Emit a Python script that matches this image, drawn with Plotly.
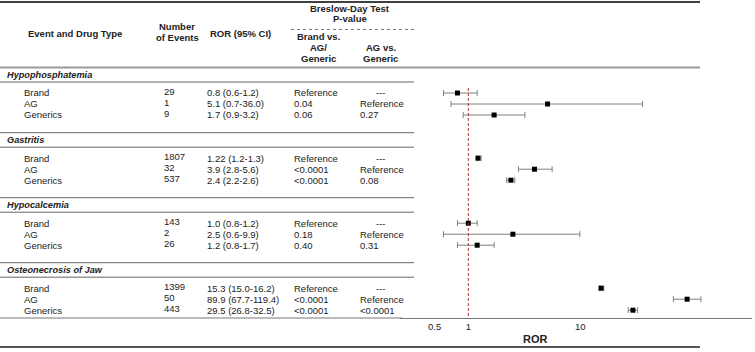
import plotly.graph_objects as go

# ---------------- data ----------------
events = ["Hypophosphatemia", "Gastritis", "Hypocalcemia", "Osteonecrosis of Jaw"]
drug_types = ["Brand", "AG", "Generics"]
n_events = [[29, 1, 9], [1807, 32, 537], [143, 2, 26], [1399, 50, 443]]
ror = [[0.8, 5.1, 1.7], [1.22, 3.9, 2.4], [1.0, 2.5, 1.2], [15.3, 89.9, 29.5]]
ci_lo = [[0.6, 0.7, 0.9], [1.2, 2.8, 2.2], [0.8, 0.6, 0.8], [15.0, 67.7, 26.8]]
ci_hi = [[1.2, 36.0, 3.2], [1.3, 5.6, 2.6], [1.2, 9.9, 1.7], [16.2, 119.4, 32.5]]
ror_labels = [["0.8 (0.6-1.2)", "5.1 (0.7-36.0)", "1.7 (0.9-3.2)"],
              ["1.22 (1.2-1.3)", "3.9 (2.8-5.6)", "2.4 (2.2-2.6)"],
              ["1.0 (0.8-1.2)", "2.5 (0.6-9.9)", "1.2 (0.8-1.7)"],
              ["15.3 (15.0-16.2)", "89.9 (67.7-119.4)", "29.5 (26.8-32.5)"]]
p_brand = [["Reference", "0.04", "0.06"], ["Reference", "<0.0001", "<0.0001"],
           ["Reference", "0.18", "0.40"], ["Reference", "<0.0001", "<0.0001"]]
p_ag = [["---", "Reference", "0.27"], ["---", "Reference", "0.08"],
        ["---", "Reference", "0.31"], ["---", "Reference", "<0.0001"]]
tick_vals = [0.5, 1, 10]
tick_text = ["0.5", "1", "10"]

# ---------------- layout constants (pixels) ----------------
W, H = 755, 352
FONT = "Liberation Sans, Arial, sans-serif"
TXT = "#222222"
FS = 9.5
AXIS_Y = 318
group_top = [67.5, 132.7, 197.7, 262.7]
TABLE_R = 414


def px(x):
    return x / W


def py(y):
    return 1 - y / H


row_y = []
for g in range(len(events)):
    row_y.append([group_top[g] + 25.5 + 11 * i for i in range(len(drug_types))])

fig = go.Figure()

# forest plot points
xs, ys, ep, em = [], [], [], []
for g in range(len(events)):
    for i in range(len(drug_types)):
        xs.append(ror[g][i])
        ys.append(row_y[g][i])
        ep.append(ci_hi[g][i] - ror[g][i])
        em.append(ror[g][i] - ci_lo[g][i])

fig.add_trace(go.Scatter(
    x=xs, y=ys, mode="markers",
    marker=dict(symbol="square", size=5, color="black"),
    error_x=dict(type="data", symmetric=False, array=ep, arrayminus=em,
                 color="#808080", thickness=1, width=3),
    showlegend=False, hoverinfo="skip"))

ann = []


def text(x, y, s, anchor="left", bold=False, italic=False, size=FS):
    if bold:
        s = "<b>" + s + "</b>"
    if italic:
        s = "<i>" + s + "</i>"
    ann.append(dict(x=px(x), y=py(y), xref="paper", yref="paper", text=s,
                    showarrow=False, xanchor=anchor, yanchor="middle",
                    font=dict(family=FONT, size=size, color=TXT)))


# header
text(75, 33, "Event and Drug Type", "center", bold=True)
text(177, 27, "Number", "center", bold=True)
text(177, 38, "of Events", "center", bold=True)
text(240, 33, "ROR (95% CI)", "center", bold=True)
text(350, 8.5, "Breslow-Day Test", "center", bold=True)
text(350, 19, "P-value", "center", bold=True)
text(318, 36, "Brand vs.", "center", bold=True)
text(318, 47, "AG/", "center", bold=True)
text(318, 58, "Generic", "center", bold=True)
text(381, 47, "AG vs.", "center", bold=True)
text(381, 58, "Generic", "center", bold=True)

# body
for g in range(len(events)):
    text(5, group_top[g] + 7.5, events[g], bold=True, italic=True, size=9.2)
    for i in range(len(drug_types)):
        y = row_y[g][i]
        text(22, y, drug_types[i])
        text(162, y - 1.5, str(n_events[g][i]))
        text(205, y, ror_labels[g][i])
        text(292, y, p_brand[g][i])
        if p_ag[g][i] == "---":
            text(381, y, p_ag[g][i], "center")
        else:
            text(358, y, p_ag[g][i])

text(535, 339, "ROR", "center", bold=True, size=11)

shapes = []


def hline(x0, x1, y, color, width, dash="solid"):
    shapes.append(dict(type="line", xref="paper", yref="paper",
                       x0=px(x0), x1=px(x1), y0=py(y), y1=py(y),
                       line=dict(color=color, width=width, dash=dash)))


hline(0, 700, 2, "#000000", 1.5)
hline(291, TABLE_R, 29.5, "#777777", 1, "dot")
hline(0, 700, 67.5, "#999999", 2)
for g in range(len(events)):
    if g > 0:
        hline(0, TABLE_R, group_top[g], "#666666", 1)
    hline(0, TABLE_R, group_top[g] + 14.5, "#666666", 1)
hline(0, 402, AXIS_Y, "#777777", 1)
hline(0, 700, 347, "#555555", 2)

# reference line at ROR = 1
shapes.append(dict(type="line", xref="x", yref="y", x0=1, x1=1, y0=88, y1=AXIS_Y,
                   line=dict(color="#b03030", width=1, dash="3px,2px")))

fig.update_layout(
    width=W, height=H,
    margin=dict(l=0, r=0, t=0, b=0),
    paper_bgcolor="white", plot_bgcolor="white",
    annotations=ann, shapes=shapes,
    xaxis=dict(type="log", domain=[px(400), px(752)], range=[-0.61, 2.533],
               showgrid=False, zeroline=False, showline=True,
               linecolor="#777777", linewidth=1, ticks="",
               tickvals=tick_vals, ticktext=tick_text,
               tickfont=dict(family=FONT, size=FS, color=TXT)),
    yaxis=dict(domain=[(H - AXIS_Y) / H, 1], range=[AXIS_Y, 0],
               visible=False, showgrid=False, zeroline=False),
)

fig.write_html("out.html",
               config={"displayModeBar": False},
               post_script="document.body.style.margin='0';document.body.style.padding='0';")
